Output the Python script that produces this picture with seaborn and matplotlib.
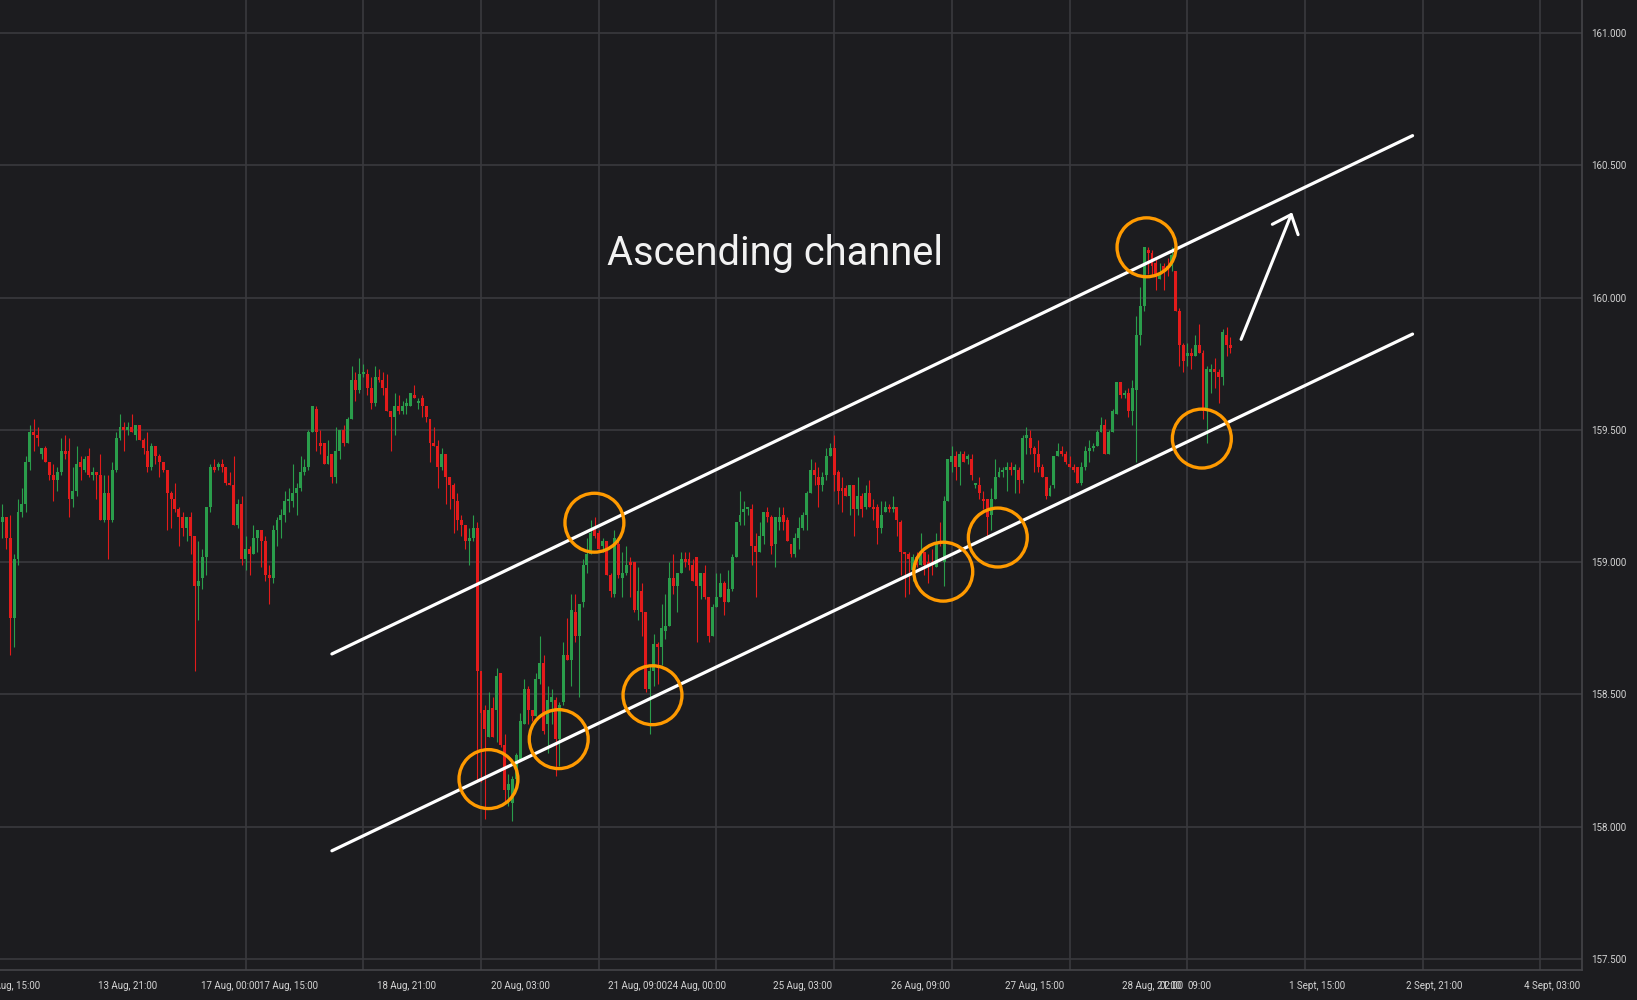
import matplotlib
matplotlib.use("Agg")
import matplotlib.pyplot as plt
import seaborn as sns

# hourly candles, one list per field
opens = [
    159.15, 159.17, 159.09, 158.79, 159.01, 159.19, 159.22, 159.38, 159.49, 159.48,
    159.41, 159.43, 159.38, 159.33, 159.31, 159.34, 159.42, 159.42, 159.24, 159.27,
    159.38, 159.35, 159.40, 159.33, 159.34, 159.33, 159.16, 159.26, 159.16, 159.35,
    159.47, 159.51, 159.50, 159.51, 159.48, 159.52, 159.46, 159.42, 159.36, 159.44,
    159.40, 159.38, 159.35, 159.26, 159.24, 159.20, 159.17, 159.13, 159.17, 159.10,
    158.91, 158.94, 159.02, 159.21, 159.36, 159.36, 159.37, 159.36, 159.30, 159.29,
    159.14, 159.22, 159.01, 159.05, 159.03, 159.09, 159.12, 159.08, 158.95, 158.94,
    159.12, 159.16, 159.18, 159.23, 159.23, 159.26, 159.28, 159.34, 159.36, 159.49,
    159.58, 159.45, 159.45, 159.37, 159.41, 159.32, 159.42, 159.50, 159.45, 159.54,
    159.69, 159.65, 159.71, 159.71, 159.66, 159.60, 159.70, 159.69, 159.66, 159.57,
    159.55, 159.59, 159.57, 159.59, 159.59, 159.63, 159.60, 159.62, 159.59, 159.54,
    159.45, 159.44, 159.36, 159.41, 159.32, 159.29, 159.23, 159.16, 159.14, 159.08,
    159.09, 159.13, 158.59, 158.44, 158.34, 158.45, 158.44, 158.58, 158.31, 158.14,
    158.09, 158.18, 158.25, 158.39, 158.52, 158.44, 158.42, 158.56, 158.62, 158.39,
    158.47, 158.48, 158.33, 158.47, 158.65, 158.63, 158.81, 158.72, 158.85, 158.99,
    159.03, 159.12, 159.11, 159.06, 159.08, 158.95, 158.88, 159.07, 158.94, 158.96,
    159.00, 159.00, 158.82, 158.89, 158.81, 158.52, 158.59, 158.69, 158.68, 158.74,
    158.76, 158.94, 158.91, 158.96, 159.01, 159.01, 158.99, 159.02, 158.91, 158.96,
    158.87, 158.72, 158.83, 158.87, 158.92, 158.85, 158.90, 159.02, 159.15, 159.19,
    159.20, 159.20, 159.06, 159.04, 159.10, 159.19, 159.17, 159.07, 159.15, 159.18,
    159.16, 159.07, 159.03, 159.09, 159.13, 159.18, 159.26, 159.35, 159.32, 159.29,
    159.33, 159.40, 159.43, 159.34, 159.28, 159.28, 159.25, 159.29, 159.20, 159.25,
    159.21, 159.26, 159.21, 159.21, 159.13, 159.19, 159.21, 159.20, 159.21, 159.15,
    159.04, 159.03, 158.97, 159.02, 158.99, 159.04, 159.00, 159.00, 158.98, 159.08,
    159.00, 159.23, 159.38, 159.40, 159.36, 159.41, 159.39, 159.39, 159.29, 159.29,
    159.24, 159.24, 159.18, 159.24, 159.32, 159.34, 159.35, 159.36, 159.35, 159.35,
    159.31, 159.47, 159.47, 159.43, 159.41, 159.36, 159.32, 159.25, 159.29, 159.40,
    159.42, 159.41, 159.37, 159.36, 159.36, 159.30, 159.36, 159.42, 159.43, 159.44,
    159.49, 159.52, 159.41, 159.49, 159.56, 159.68, 159.63, 159.64, 159.57, 159.65,
    159.86, 159.97, 160.18, 160.17, 160.13, 160.07, 160.12, 160.12, 160.12, 160.10,
    159.95, 159.82, 159.78, 159.79, 159.78, 159.82, 159.79, 159.57, 159.72, 159.73,
    159.72, 159.70, 159.86, 159.82,
]
highs = [
    159.22, 159.17, 159.18, 159.03, 159.24, 159.28, 159.40, 159.52, 159.54, 159.51,
    159.43, 159.44, 159.38, 159.37, 159.36, 159.47, 159.48, 159.47, 159.36, 159.44,
    159.40, 159.40, 159.43, 159.36, 159.34, 159.41, 159.33, 159.33, 159.38, 159.49,
    159.56, 159.53, 159.53, 159.56, 159.52, 159.52, 159.47, 159.49, 159.45, 159.44,
    159.41, 159.38, 159.35, 159.27, 159.30, 159.21, 159.19, 159.17, 159.19, 159.10,
    159.08, 159.05, 159.21, 159.37, 159.39, 159.38, 159.39, 159.36, 159.34, 159.40,
    159.24, 159.25, 159.10, 159.06, 159.14, 159.12, 159.12, 159.10, 158.99, 159.14,
    159.17, 159.20, 159.27, 159.28, 159.37, 159.30, 159.40, 159.39, 159.50, 159.59,
    159.59, 159.50, 159.45, 159.46, 159.41, 159.51, 159.50, 159.52, 159.55, 159.74,
    159.72, 159.77, 159.75, 159.73, 159.70, 159.74, 159.73, 159.72, 159.71, 159.57,
    159.64, 159.63, 159.61, 159.62, 159.64, 159.67, 159.62, 159.63, 159.59, 159.54,
    159.51, 159.46, 159.43, 159.41, 159.32, 159.30, 159.26, 159.18, 159.14, 159.13,
    159.18, 159.15, 158.59, 158.46, 158.51, 158.49, 158.60, 158.58, 158.35, 158.20,
    158.19, 158.28, 158.43, 158.56, 158.53, 158.44, 158.58, 158.72, 158.65, 158.53,
    158.52, 158.49, 158.47, 158.70, 158.79, 158.88, 158.88, 158.84, 159.01, 159.09,
    159.16, 159.17, 159.12, 159.09, 159.08, 158.96, 159.12, 159.08, 159.04, 159.06,
    159.02, 159.00, 158.98, 158.92, 158.81, 158.61, 158.73, 158.70, 158.84, 158.88,
    159.00, 159.03, 158.96, 159.04, 159.04, 159.04, 159.01, 159.02, 158.96, 158.99,
    158.87, 158.84, 158.96, 158.96, 158.93, 158.97, 159.03, 159.15, 159.27, 159.23,
    159.21, 159.22, 159.11, 159.15, 159.19, 159.21, 159.18, 159.17, 159.21, 159.21,
    159.17, 159.07, 159.11, 159.17, 159.19, 159.27, 159.39, 159.38, 159.36, 159.34,
    159.43, 159.45, 159.48, 159.35, 159.32, 159.29, 159.29, 159.29, 159.32, 159.26,
    159.29, 159.31, 159.24, 159.22, 159.23, 159.23, 159.22, 159.25, 159.21, 159.16,
    159.04, 159.04, 159.03, 159.04, 159.11, 159.04, 159.03, 159.05, 159.11, 159.15,
    159.25, 159.39, 159.44, 159.42, 159.42, 159.42, 159.41, 159.41, 159.30, 159.32,
    159.27, 159.24, 159.28, 159.39, 159.36, 159.36, 159.38, 159.38, 159.37, 159.36,
    159.48, 159.51, 159.50, 159.44, 159.46, 159.37, 159.32, 159.29, 159.40, 159.45,
    159.44, 159.42, 159.40, 159.37, 159.36, 159.38, 159.44, 159.46, 159.45, 159.50,
    159.55, 159.54, 159.50, 159.58, 159.68, 159.68, 159.65, 159.66, 159.69, 159.93,
    160.04, 160.19, 160.19, 160.18, 160.15, 160.13, 160.13, 160.15, 160.19, 160.10,
    159.96, 159.83, 159.83, 159.81, 159.86, 159.90, 159.80, 159.74, 159.75, 159.77,
    159.73, 159.88, 159.89, 159.85,
]
lows = [
    159.09, 159.05, 158.65, 158.68, 158.99, 159.17, 159.19, 159.35, 159.42, 159.44,
    159.39, 159.38, 159.31, 159.23, 159.27, 159.33, 159.39, 159.17, 159.21, 159.25,
    159.31, 159.34, 159.32, 159.31, 159.24, 159.16, 159.15, 159.01, 159.15, 159.34,
    159.46, 159.42, 159.48, 159.49, 159.46, 159.46, 159.41, 159.34, 159.35, 159.37,
    159.32, 159.34, 159.12, 159.13, 159.19, 159.06, 159.10, 159.08, 159.03, 158.59,
    158.78, 158.90, 158.95, 159.19, 159.34, 159.35, 159.34, 159.29, 159.29, 159.14,
    159.13, 158.99, 158.97, 158.95, 159.03, 159.04, 158.98, 158.93, 158.84, 158.92,
    159.06, 159.09, 159.15, 159.19, 159.21, 159.18, 159.27, 159.33, 159.35, 159.49,
    159.42, 159.41, 159.37, 159.37, 159.30, 159.30, 159.39, 159.44, 159.45, 159.54,
    159.61, 159.64, 159.70, 159.63, 159.58, 159.59, 159.68, 159.63, 159.57, 159.42,
    159.48, 159.56, 159.56, 159.56, 159.59, 159.62, 159.58, 159.55, 159.53, 159.38,
    159.44, 159.28, 159.35, 159.22, 159.20, 159.11, 159.12, 159.10, 159.05, 158.99,
    159.08, 158.17, 158.17, 158.03, 158.34, 158.34, 158.32, 158.30, 158.09, 158.08,
    158.02, 158.17, 158.25, 158.39, 158.39, 158.40, 158.42, 158.54, 158.35, 158.28,
    158.39, 158.19, 158.23, 158.46, 158.63, 158.53, 158.70, 158.49, 158.83, 158.96,
    159.03, 159.09, 159.05, 159.04, 158.95, 158.87, 158.87, 158.94, 158.87, 158.95,
    158.87, 158.81, 158.78, 158.72, 158.51, 158.35, 158.53, 158.54, 158.61, 158.71,
    158.76, 158.88, 158.81, 158.96, 158.98, 158.97, 158.93, 158.70, 158.86, 158.86,
    158.70, 158.72, 158.83, 158.87, 158.80, 158.85, 158.89, 159.02, 159.14, 159.14,
    159.18, 158.99, 158.87, 159.04, 159.07, 159.15, 159.03, 158.98, 159.12, 159.12,
    159.08, 159.02, 159.02, 159.05, 159.12, 159.12, 159.26, 159.29, 159.21, 159.27,
    159.31, 159.40, 159.27, 159.22, 159.19, 159.25, 159.18, 159.10, 159.18, 159.17,
    159.20, 159.21, 159.16, 159.07, 159.11, 159.19, 159.19, 159.19, 159.10, 158.95,
    158.87, 158.88, 158.93, 158.98, 158.99, 158.95, 158.92, 158.95, 158.98, 159.06,
    158.91, 159.23, 159.34, 159.31, 159.29, 159.38, 159.37, 159.31, 159.28, 159.24,
    159.20, 159.10, 159.12, 159.24, 159.32, 159.32, 159.27, 159.33, 159.26, 159.26,
    159.30, 159.41, 159.41, 159.34, 159.34, 159.32, 159.24, 159.25, 159.28, 159.40,
    159.40, 159.37, 159.36, 159.34, 159.30, 159.29, 159.35, 159.38, 159.42, 159.44,
    159.49, 159.41, 159.41, 159.49, 159.56, 159.62, 159.62, 159.55, 159.52, 159.38,
    159.82, 159.95, 160.09, 160.08, 160.03, 160.07, 160.03, 160.08, 160.10, 159.95,
    159.74, 159.72, 159.74, 159.73, 159.78, 159.79, 159.54, 159.45, 159.64, 159.66,
    159.60, 159.67, 159.78, 159.79,
]
closes = [
    159.17, 159.09, 158.79, 159.01, 159.19, 159.22, 159.38, 159.49, 159.48, 159.47,
    159.43, 159.38, 159.33, 159.31, 159.34, 159.42, 159.41, 159.24, 159.27, 159.37,
    159.36, 159.39, 159.33, 159.34, 159.33, 159.16, 159.26, 159.16, 159.35, 159.47,
    159.51, 159.50, 159.51, 159.49, 159.52, 159.46, 159.43, 159.36, 159.44, 159.40,
    159.38, 159.35, 159.26, 159.24, 159.20, 159.17, 159.13, 159.17, 159.10, 158.91,
    158.93, 159.02, 159.21, 159.36, 159.35, 159.37, 159.36, 159.30, 159.29, 159.14,
    159.22, 159.01, 159.05, 159.03, 159.09, 159.12, 159.08, 158.95, 158.94, 159.12,
    159.16, 159.18, 159.23, 159.24, 159.26, 159.28, 159.34, 159.36, 159.49, 159.59,
    159.49, 159.44, 159.37, 159.40, 159.32, 159.42, 159.50, 159.45, 159.54, 159.69,
    159.65, 159.71, 159.72, 159.66, 159.60, 159.70, 159.69, 159.66, 159.57, 159.55,
    159.59, 159.57, 159.59, 159.60, 159.64, 159.62, 159.61, 159.59, 159.55, 159.45,
    159.44, 159.36, 159.41, 159.32, 159.29, 159.24, 159.16, 159.14, 159.08, 159.09,
    159.13, 158.59, 158.43, 158.37, 158.44, 158.34, 158.57, 158.31, 158.14, 158.16,
    158.18, 158.27, 158.40, 158.52, 158.44, 158.42, 158.56, 158.62, 158.36, 158.48,
    158.49, 158.33, 158.46, 158.65, 158.63, 158.82, 158.72, 158.84, 158.99, 159.03,
    159.11, 159.10, 159.05, 159.08, 158.95, 158.89, 159.09, 158.95, 158.96, 158.99,
    158.99, 158.82, 158.89, 158.81, 158.52, 158.59, 158.69, 158.68, 158.75, 158.76,
    158.94, 158.91, 158.96, 159.01, 159.00, 158.99, 158.93, 158.91, 158.96, 158.87,
    158.72, 158.83, 158.87, 158.92, 158.85, 158.90, 159.02, 159.15, 159.18, 159.20,
    159.21, 159.06, 159.04, 159.10, 159.19, 159.17, 159.06, 159.17, 159.17, 159.15,
    159.08, 159.03, 159.09, 159.13, 159.18, 159.26, 159.35, 159.33, 159.29, 159.32,
    159.40, 159.43, 159.33, 159.27, 159.27, 159.25, 159.29, 159.20, 159.25, 159.20,
    159.26, 159.21, 159.20, 159.13, 159.18, 159.21, 159.20, 159.21, 159.16, 159.04,
    159.03, 159.01, 159.02, 158.99, 159.03, 158.99, 158.99, 158.99, 159.07, 159.07,
    159.23, 159.39, 159.40, 159.36, 159.41, 159.38, 159.40, 159.33, 159.30, 159.26,
    159.23, 159.17, 159.24, 159.32, 159.34, 159.35, 159.36, 159.35, 159.36, 159.31,
    159.47, 159.48, 159.43, 159.41, 159.36, 159.32, 159.25, 159.28, 159.40, 159.42,
    159.41, 159.38, 159.36, 159.35, 159.30, 159.36, 159.42, 159.43, 159.44, 159.49,
    159.52, 159.41, 159.49, 159.57, 159.68, 159.63, 159.64, 159.57, 159.66, 159.86,
    159.97, 160.19, 160.17, 160.12, 160.08, 160.09, 160.10, 160.11, 160.16, 159.95,
    159.82, 159.76, 159.79, 159.78, 159.82, 159.79, 159.57, 159.73, 159.73, 159.72,
    159.70, 159.87, 159.82, 159.81,
]
assert len(opens) == len(highs) == len(lows) == len(closes)

y_ticks = [157.5, 158.0, 158.5, 159.0, 159.5, 160.0, 160.5, 161.0]
x_ticks = [2, 32, 58, 73, 103, 132, 162, 177, 204, 234, 263, 293, 298, 305, 335, 365, 395]
x_labels = ["12 Aug, 15:00", "13 Aug, 21:00", "17 Aug, 00:00", "17 Aug, 15:00",
            "18 Aug, 21:00", "20 Aug, 03:00", "21 Aug, 09:00", "24 Aug, 00:00",
            "25 Aug, 03:00", "26 Aug, 09:00", "27 Aug, 15:00", "28 Aug, 21:00",
            "02:00", "09:00", "1 Sept, 15:00", "2 Sept, 21:00", "4 Sept, 03:00"]

# channel lines and touch points
upper_x = [84.0, 359.4]
upper_y = [158.653, 160.612]
lower_x = [84.0, 359.4]
lower_y = [157.909, 159.862]
touch_x = [123.9, 141.8, 150.9, 165.7, 239.8, 253.7, 291.6, 305.7]
touch_y = [158.180, 158.331, 159.149, 158.497, 158.964, 159.093, 160.190, 159.467]
arrow_from = (315.7, 159.842)
arrow_to = (328.7, 160.322)

BG = "#1c1c1f"
GRID = "#3a3a3e"
TXT = "#d4d4d4"
UP = "#2a9d4b"
DOWN = "#e31b1b"

sns.set_theme(style="darkgrid", rc={
    "axes.facecolor": BG, "figure.facecolor": BG,
    "grid.color": GRID, "grid.linewidth": 1.2,
    "axes.edgecolor": GRID,
})
plt.rcParams["font.family"] = ["Roboto", "DejaVu Sans"]

fig = plt.figure(figsize=(16.37, 10), dpi=100)
ax = fig.add_axes([0, 0.03, 1582 / 1637, 0.97])

idx = list(range(len(closes)))
cols = [UP if c > o else DOWN for o, c in zip(opens, closes)]
bottoms = [min(o, c) for o, c in zip(opens, closes)]
heights = [max(abs(c - o), 0.004) for o, c in zip(opens, closes)]

ax.vlines(idx, lows, highs, colors=cols, linewidth=0.8, zorder=2)
ax.bar(idx, heights, bottom=bottoms, width=0.75, color=cols, linewidth=0, zorder=2)

sns.lineplot(x=upper_x, y=upper_y, color="white", linewidth=2.3, ax=ax, zorder=3)
sns.lineplot(x=lower_x, y=lower_y, color="white", linewidth=2.3, ax=ax, zorder=3)

ax.scatter(touch_x, touch_y, s=1800, facecolors="none", edgecolors="#ff9a00",
           linewidths=2.4, zorder=4)

ax.annotate("", xy=arrow_to, xytext=arrow_from,
            arrowprops=dict(arrowstyle="->,head_length=0.58,head_width=0.5",
                            color="white", lw=2.2, mutation_scale=20,
                            shrinkA=0, shrinkB=0), zorder=4)

ax.text(154.1, 160.123, "Ascending channel", color="#f2f2f2", fontsize=28.7,
        ha="left", va="baseline", zorder=5)

ax.set_xlim(-0.586, 402.58)
ax.set_ylim(157.4584, 161.1247)

ax.yaxis.tick_right()
ax.set_yticks(y_ticks)
ax.set_yticklabels([f"{v:.3f}" for v in y_ticks])
ax.set_xticks(x_ticks)
ax.set_xticklabels(x_labels)
ax.set_xticks([2 + 30 * k for k in range(14)], minor=True)
ax.grid(False, axis="x", which="major")
ax.grid(True, axis="x", which="minor", color=GRID, linewidth=1.2)
ax.grid(True, axis="y", which="major", color=GRID, linewidth=1.2)
ax.tick_params(axis="y", length=0, pad=6.3, labelsize=7, colors=TXT)
ax.tick_params(axis="x", which="both", length=0, pad=8, labelsize=7, colors=TXT)
ax.set_xlabel("")
ax.set_ylabel("")

for side in ("top", "left"):
    ax.spines[side].set_visible(False)
for side in ("right", "bottom"):
    ax.spines[side].set_visible(True)
    ax.spines[side].set_color("#444448")
    ax.spines[side].set_linewidth(1.2)

fig.savefig("out.png", dpi=100, facecolor=BG)
